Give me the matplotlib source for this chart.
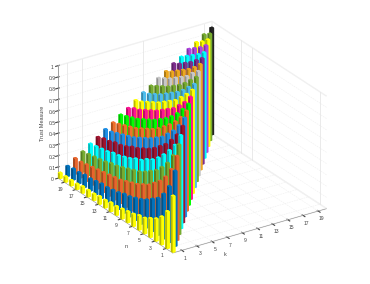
import matplotlib
matplotlib.use('Agg')
import matplotlib.pyplot as plt
from matplotlib.colors import to_rgb

# trust value per k (row), starting at n = k and running to n = 21
row_values = [
    [.50, .33, .25, .20, .17, .14, .13, .11, .10, .09, .08, .08, .07, .07, .06, .06, .06, .05, .05, .05, .05],
    [.67, .50, .40, .33, .29, .25, .22, .20, .18, .17, .15, .14, .13, .13, .12, .11, .11, .10, .10, .09],
    [.75, .60, .50, .43, .38, .33, .30, .27, .25, .23, .21, .20, .19, .18, .17, .16, .15, .14, .14],
    [.80, .67, .57, .50, .44, .40, .36, .33, .31, .29, .27, .25, .24, .22, .21, .20, .19, .18],
    [.83, .71, .63, .56, .50, .45, .42, .38, .36, .33, .31, .29, .28, .26, .25, .24, .23],
    [.86, .75, .67, .60, .55, .50, .46, .43, .40, .38, .35, .33, .32, .30, .29, .27],
    [.88, .78, .70, .64, .58, .54, .50, .47, .44, .41, .39, .37, .35, .33, .32],
    [.89, .80, .73, .67, .62, .57, .53, .50, .47, .44, .42, .40, .38, .36],
    [.90, .82, .75, .69, .64, .60, .56, .53, .50, .47, .45, .43, .41],
    [.91, .83, .77, .71, .67, .63, .59, .56, .53, .50, .48, .45],
    [.92, .85, .79, .73, .69, .65, .61, .58, .55, .52, .50],
    [.92, .86, .80, .75, .71, .67, .63, .60, .57, .55],
    [.93, .87, .81, .76, .72, .68, .65, .62, .59],
    [.93, .88, .82, .78, .74, .70, .67, .64],
    [.94, .88, .83, .79, .75, .71, .68],
    [.94, .89, .84, .80, .76, .73],
    [.94, .89, .85, .81, .77],
    [.95, .90, .86, .82],
    [.95, .90, .86],
    [.95, .91],
    [.95],
]
row_colors = ['#FFFF00', '#0072BD', '#E8642C', '#77AC30', '#00FFFF', '#A2142F', '#1E90E8',
              '#F0702A', '#00FF00', '#FF1493', '#FFFF00', '#4DBEEE', '#77AC30', '#C8C8C8',
              '#EDA820', '#7E2F8E', '#00FFFF', '#B044E0', '#FFFF00', '#77AC30', '#222222']
tick_pos = [2, 4, 6, 8, 10, 12, 14, 16, 18, 20]
tick_labels = ['1', '3', '5', '7', '9', '11', '13', '15', '17', '19']
z_ticks = [0, .1, .2, .3, .4, .5, .6, .7, .8, .9, 1]
z_labels = ['0', '0.1', '0.2', '0.3', '0.4', '0.5', '0.6', '0.7', '0.8', '0.9', '1']
k_walls = [2, 4, 12, 20]
n_walls = [2, 14, 16]

plt.rcParams['font.family'] = 'Liberation Sans'

fig = plt.figure(figsize=(3.7, 2.84), dpi=100)
ax = fig.add_axes([0.0095, 0.0035, 1, 1], projection='3d', proj_type='ortho')
ax.computed_zorder = False
ax.view_init(elev=25.7, azim=-123.6)
ax.set_box_aspect((185.5, 208, 125.4), zoom=1.04)

kmin, kmax = 0.8, 21.1
nmin, nmax = 0.8, 21.1
ax.set_xlim(kmin, kmax)
ax.set_ylim(nmin, nmax)
ax.set_zlim(0, 1)

# grid drawn by hand, only some of the verticals show in the original
ax.grid(False)
gc = '#efefef'
for t in tick_pos:
    ax.plot([t, t], [nmin, nmax], [0, 0], color=gc, lw=0.4, ls=(0, (3, 1.5)), zorder=1)
    ax.plot([kmin, kmax], [t, t], [0, 0], color=gc, lw=0.4, ls=(0, (3, 1.5)), zorder=1)
for z in z_ticks:
    ax.plot([kmin, kmax], [nmax, nmax], [z, z], color=gc, lw=0.4, ls=(0, (3, 1.5)), zorder=1)
    ax.plot([kmax, kmax], [nmin, nmax], [z, z], color=gc, lw=0.4, ls=(0, (3, 1.5)), zorder=1)
for t in k_walls:
    ax.plot([t, t], [nmax, nmax], [0, 1], color='#e2e2e2', lw=0.5, zorder=2)
for t in n_walls:
    ax.plot([kmax, kmax], [t, t], [0, 1], color='#e2e2e2', lw=0.5, zorder=2)

w = 0.35
order = 0
# back to front so the columns overlap correctly
for k in range(21, 0, -1):
    vals = row_values[k - 1]
    c = to_rgb(row_colors[k - 1])
    dark = tuple(v * 0.72 for v in c)
    # faces: bottom, top, -n, +n, -k, +k; no shading so back faces don't bleed dark
    faces = [c, c, c, c, dark, c]
    for i in range(len(vals) - 1, -1, -1):
        n = k + i
        ax.bar3d(k - w / 2, n - w / 2, 0, w, w, vals[i], color=faces,
                 shade=False, zorder=10 + order)
        order += 1

ax.set_xticks(tick_pos)
ax.set_xticklabels(tick_labels)
ax.set_yticks(tick_pos)
ax.set_yticklabels(tick_labels)
ax.set_zticks(z_ticks)
ax.set_zticklabels(z_labels)
ax.tick_params(labelsize=3.6, colors='#444444', pad=-5, length=1, width=0.3)
ax.tick_params(axis='z', pad=-5.5)

for a in (ax.xaxis, ax.yaxis, ax.zaxis):
    a.set_pane_color((1, 1, 1, 1))
    a.pane.set_edgecolor('#f2f2f2')
    a.line.set_linewidth(0.4)
    a.line.set_color('#888888')
ax.zaxis.line.set_color('#555555')

fig.text(126 / 370, 1 - 247 / 284, 'n', fontsize=4, color='#444444', ha='center', va='center')
fig.text(225 / 370, 1 - 254 / 284, 'k', fontsize=4, color='#444444', ha='center', va='center')
fig.text(42 / 370, 1 - 123 / 284, 'Trust Measure', fontsize=4, color='#444444', rotation=90,
         ha='center', va='center')

fig.savefig('out.png', dpi=100)
